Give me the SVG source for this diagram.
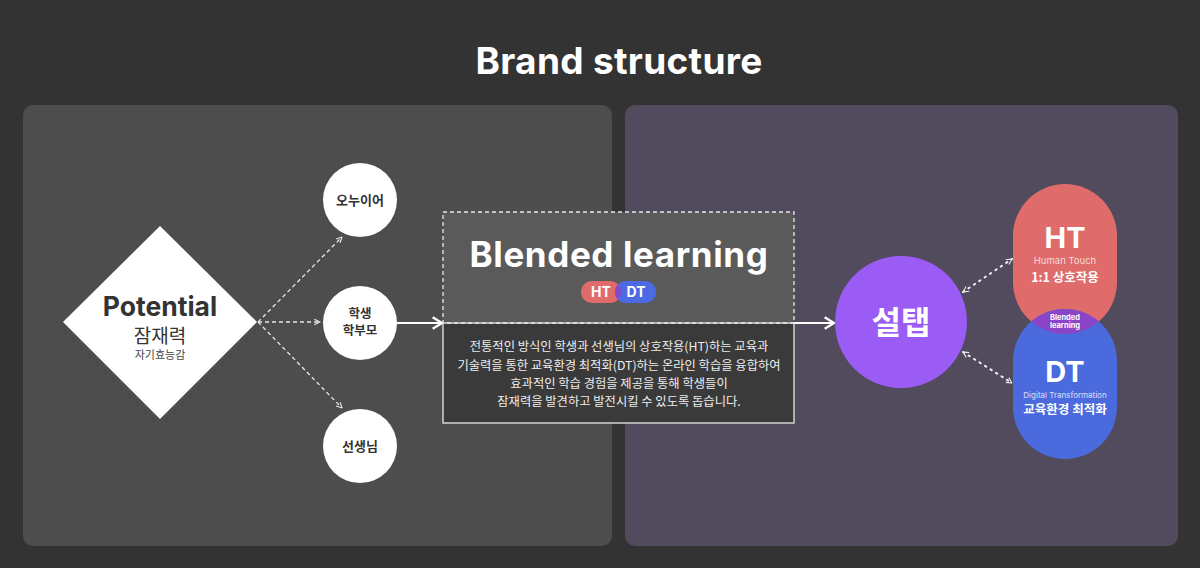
<svg xmlns="http://www.w3.org/2000/svg" width="1200" height="568" viewBox="0 0 1200 568">
<style>
.en{font-family:Inter,"Noto Sans","Noto Sans CJK KR",sans-serif;font-weight:700;fill:#fff;text-anchor:middle}
.kr{font-family:"Noto Sans CJK KR","Noto Sans",sans-serif;text-anchor:middle}
.dash{stroke:#e8e8e8;stroke-width:1.3;stroke-dasharray:4 3;fill:none}
.dot{stroke:#f0f0f0;stroke-width:2;stroke-dasharray:1.5 5;stroke-linecap:round;fill:none}
.solid{stroke:#fff;stroke-width:2;fill:none}
</style>
<defs>
<marker id="ah" viewBox="0 0 10 10" refX="9" refY="5" markerWidth="7" markerHeight="7" orient="auto-start-reverse" markerUnits="userSpaceOnUse">
<path d="M1,1 L9,5 L1,9" fill="none" stroke="#eee" stroke-width="1.5"/>
</marker>
<marker id="ahs" viewBox="0 0 12 12" refX="11" refY="6" markerWidth="14" markerHeight="14" orient="auto" markerUnits="userSpaceOnUse">
<path d="M3,1 L11,6 L3,11" fill="none" stroke="#fff" stroke-width="2"/>
</marker>
<clipPath id="htclip"><rect x="1013" y="184" width="104" height="150" rx="52"/></clipPath>
<clipPath id="pillclip"><rect x="581" y="281" width="40" height="22" rx="11"/></clipPath>
</defs>
<rect width="1200" height="568" fill="#333333"/>
<text x="619" y="74" class="en" font-size="37" letter-spacing="0.3">Brand structure</text>
<rect x="23" y="105" width="589" height="441" rx="10" fill="#4d4d4d"/>
<rect x="625" y="105" width="553" height="441" rx="10" fill="#524a5d"/>

<g id="connectors">
<line x1="258" y1="322" x2="342" y2="237" class="dash" marker-end="url(#ah)"/>
<line x1="258" y1="322" x2="320" y2="322" class="dash" marker-end="url(#ah)"/>
<line x1="258" y1="322" x2="342" y2="408" class="dash" marker-end="url(#ah)"/>
<line x1="397" y1="323" x2="442" y2="323" class="solid" marker-end="url(#ahs)"/>
<line x1="794" y1="323" x2="834" y2="323" class="solid" marker-end="url(#ahs)"/>
<line x1="963" y1="292" x2="1012" y2="259" class="dot" marker-start="url(#ah)" marker-end="url(#ah)"/>
<line x1="963" y1="352" x2="1012" y2="383" class="dot" marker-start="url(#ah)" marker-end="url(#ah)"/>
</g>

<g id="potential">
<polygon points="160,226 257,322 160,419 63,322" fill="#fff"/>
<text x="160" y="316" class="en" font-size="26.5" style="fill:#333">Potential</text>
<text x="160" y="343" class="kr" font-size="19" fill="#333">잠재력</text>
<text x="160" y="359" class="kr" font-size="11" fill="#444">자기효능감</text>
</g>
<g id="onuieo">
<circle cx="360" cy="200" r="37" fill="#fff"/>
<text x="360" y="205" class="kr" font-size="13" font-weight="700" fill="#333">오누이어</text>
</g>
<g id="student">
<circle cx="360" cy="323" r="37" fill="#fff"/>
<text x="360" y="318" class="kr" font-size="12.5" font-weight="700" fill="#333">학생</text>
<text x="360" y="335" class="kr" font-size="12.5" font-weight="700" fill="#333">학부모</text>
</g>
<g id="teacher">
<circle cx="360" cy="446" r="37" fill="#fff"/>
<text x="360" y="451" class="kr" font-size="13" font-weight="700" fill="#333">선생님</text>
</g>

<g id="blended">
<rect x="443" y="212" width="351" height="111" fill="#5a5a5a"/>
<rect x="443" y="323" width="351" height="100" fill="#3a3a3a" stroke="#e8e8e8" stroke-width="1.3"/>
<rect x="443" y="212" width="351" height="111" class="dash" stroke-dasharray="6 4"/>
<text x="619" y="267" class="en" font-size="35" letter-spacing="0.6">Blended learning</text>
<rect x="581" y="281" width="40" height="22" rx="11" fill="#e06b6b"/>
<rect x="615" y="281" width="41" height="22" rx="11" fill="#4c6ae3"/>
<rect x="615" y="281" width="41" height="22" rx="11" fill="#8a48c9" clip-path="url(#pillclip)"/>
<text x="601" y="297" class="en" font-size="14">HT</text>
<text x="636" y="297" class="en" font-size="14">DT</text>
<text x="619" y="351" class="kr" font-size="12.3" fill="#eee">전통적인 방식인 학생과 선생님의 상호작용(HT)하는 교육과</text>
<text x="619" y="370" class="kr" font-size="12.3" fill="#eee">기술력을 통한 교육환경 최적화(DT)하는 온라인 학습을 융합하여</text>
<text x="619" y="388" class="kr" font-size="12.3" fill="#eee">효과적인 학습 경험을 제공을 통해 학생들이</text>
<text x="619" y="406" class="kr" font-size="12.3" fill="#eee">잠재력을 발견하고 발전시킬 수 있도록 돕습니다.</text>
</g>

<g id="seoltap">
<circle cx="901" cy="322" r="66" fill="#9b5cf6"/>
<text x="901" y="334" class="kr" font-size="32" font-weight="700" fill="#fff">설탭</text>
</g>

<g id="ht">
<rect x="1013" y="184" width="104" height="150" rx="52" fill="#df6b6b"/>
<text x="1065" y="248" class="en" font-size="29">HT</text>
<text x="1065" y="264" class="en" font-size="9.5" style="font-weight:400;fill:#f6dada">Human Touch</text>
<text x="1065" y="282" class="kr" font-size="12.5" font-weight="700" fill="#fff">1:1 상호작용</text>
</g>
<g id="dt">
<rect x="1013" y="309" width="104" height="150" rx="52" fill="#4a6ade"/>
<rect x="1013" y="309" width="104" height="150" rx="52" fill="#8a44c8" clip-path="url(#htclip)"/>
<text x="1065" y="320" class="en" font-size="7.5">Blended</text>
<text x="1065" y="328" class="en" font-size="7.5">learning</text>
<text x="1065" y="382" class="en" font-size="29">DT</text>
<text x="1065" y="398" class="en" font-size="8" style="font-weight:400;fill:#d8e0fb">Digital Transformation</text>
<text x="1065" y="414" class="kr" font-size="12.5" font-weight="700" fill="#fff">교육환경 최적화</text>
</g>
</svg>
